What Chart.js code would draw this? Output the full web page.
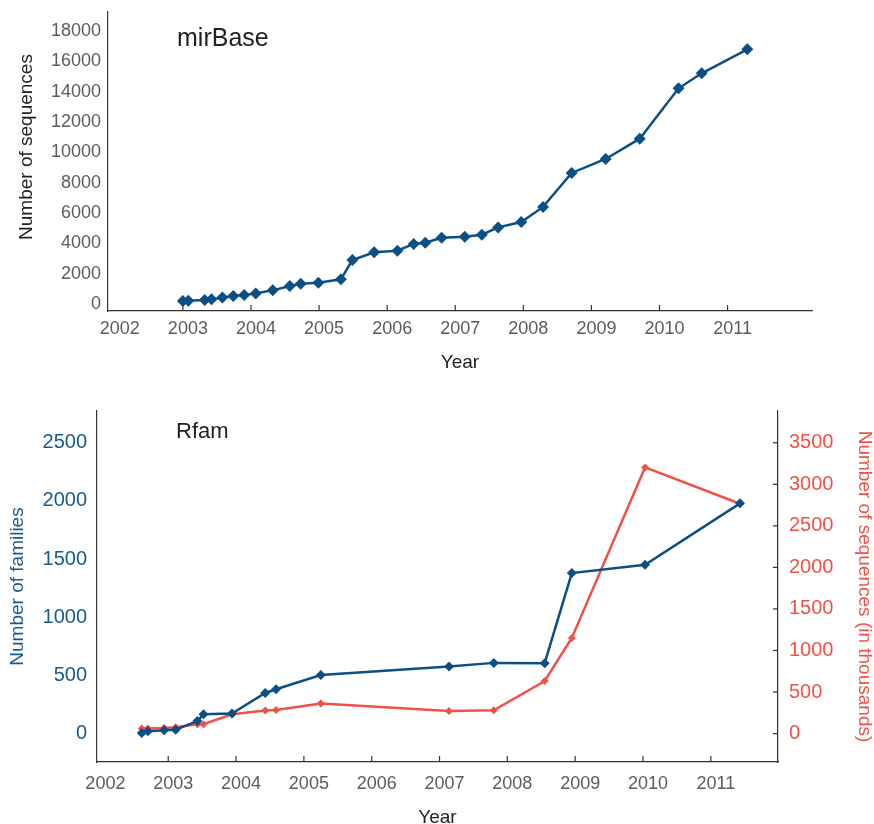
<!DOCTYPE html>
<html>
<head>
<meta charset="utf-8">
<script src="https://cdn.jsdelivr.net/npm/chart.js@4.4.1/dist/chart.umd.min.js"></script>
<style>
  html, body { margin: 0; padding: 0; background: #fff; }
  .box { position: absolute; left: 0; }
  #top { top: 0; }
  #bot { top: 390px; }
</style>
</head>
<body>
<div class="box" id="top"><canvas id="mir" width="874" height="390"></canvas></div>
<div class="box" id="bot"><canvas id="rfam" width="874" height="434"></canvas></div>
<script>
// ── data: mirBase ──────────────────────────────────────
const mirYears = [2003.00, 2003.08, 2003.32, 2003.42, 2003.58, 2003.74, 2003.90, 2004.07,
                  2004.32, 2004.57, 2004.73, 2004.99, 2005.32, 2005.49, 2005.81, 2006.15,
                  2006.39, 2006.56, 2006.80, 2007.14, 2007.39, 2007.63, 2007.97, 2008.29,
                  2008.71, 2009.21, 2009.71, 2010.28, 2010.62, 2011.29];
const mirSeqs  = [200, 220, 260, 310, 420, 530, 590, 700,
                  900, 1190, 1340, 1400, 1630, 2900, 3410, 3510,
                  3960, 4040, 4370, 4440, 4570, 5050, 5400, 6400,
                  8640, 9560, 10900, 14220, 15210, 16790];

// ── data: Rfam ─────────────────────────────────────────
const rfamYears    = [2002.61, 2002.70, 2002.94, 2003.11, 2003.43, 2003.52, 2003.94, 2004.43,
                      2004.59, 2005.25, 2007.14, 2007.80, 2008.55, 2008.95, 2010.03, 2011.43];
const rfamFamilies = [5, 20, 28, 34, 108, 166, 172, 349, 381, 504, 577, 608, 605, 1380, 1451, 1979];
const rfamSeqK     = [60, 60, 67, 76, 112, 112, 232, 277, 284, 361, 272, 280, 633, 1150, 3203, 2766];

// ── tick labels ────────────────────────────────────────
const yearTicks   = [2002, 2003, 2004, 2005, 2006, 2007, 2008, 2009, 2010, 2011];
const mirYTicks   = [0, 2000, 4000, 6000, 8000, 10000, 12000, 14000, 16000, 18000];
const famTicks    = [0, 500, 1000, 1500, 2000, 2500];
const seqKTicks   = [0, 500, 1000, 1500, 2000, 2500, 3000, 3500];

const BLUE = '#0b4f85';
const RED  = '#ef5246';
const GREY = '#5c5c5c';
const FONT = "'Liberation Sans', Arial, sans-serif";

Chart.defaults.font.family = FONT;
Chart.defaults.animation = false;

const pts = (xs, ys) => xs.map((x, i) => ({ x, y: ys[i] }));
const fixTicks = vals => scale => { scale.ticks = vals.map(v => ({ value: v })); };
// fixed axis box, no extra label padding pushed into the chart area
const fitW = w => s => { s.width = w; s.paddingTop = 0; s.paddingBottom = 0; };
const fitH = h => s => { s.height = h; };

// inward tick marks + free text (titles inside plot)
const extras = {
  id: 'extras',
  afterDraw(chart, args, o) {
    const ctx = chart.ctx;
    ctx.save();
    (o.ticks || []).forEach(t => {
      const sc = chart.scales[t.axis];
      ctx.strokeStyle = t.color; ctx.lineWidth = 1.2;
      t.values.forEach(v => {
        const p = sc.getPixelForValue(v);
        ctx.beginPath();
        if (sc.isHorizontal()) { const y = chart.chartArea.bottom; ctx.moveTo(p, y); ctx.lineTo(p, y - t.len); }
        else { const x = t.side === 'right' ? chart.chartArea.right : chart.chartArea.left;
               ctx.moveTo(x, p); ctx.lineTo(x - t.len, p); }
        ctx.stroke();
      });
    });
    (o.texts || []).forEach(t => {
      ctx.save();
      ctx.translate(t.x, t.y);
      if (t.rot) ctx.rotate(t.rot);
      ctx.fillStyle = t.color;
      ctx.font = t.font;
      ctx.textAlign = t.align || 'left';
      ctx.textBaseline = t.base || 'alphabetic';
      ctx.fillText(t.text, 0, 0);
      ctx.restore();
    });
    ctx.restore();
  }
};

// ── top: mirBase ───────────────────────────────────────
new Chart(document.getElementById('mir'), {
  type: 'line',
  data: { datasets: [{
    data: pts(mirYears, mirSeqs),
    borderColor: BLUE, backgroundColor: BLUE, borderWidth: 2.5,
    pointStyle: 'rectRot', pointRadius: 6, pointBorderWidth: 0, tension: 0
  }]},
  options: {
    responsive: false,
    layout: { padding: { top: 12, right: 62, left: 0, bottom: 0 } },
    plugins: {
      legend: { display: false }, tooltip: { enabled: false },
      extras: {
        ticks: [{ axis: 'x', values: yearTicks.slice(1), len: 6, color: '#333' }],
        texts: [
          { text: 'mirBase', x: 177, y: 46, font: `25px ${FONT}`, color: '#222' },
          { text: 'Number of sequences', x: 32, y: 147, rot: -Math.PI / 2,
            font: `19px ${FONT}`, color: '#222', align: 'center' }
        ]
      }
    },
    scales: {
      x: {
        type: 'linear', min: 2001.90, max: 2012.24,
        afterBuildTicks: fixTicks(yearTicks),
        afterFit: fitH(79),
        grid: { display: false, drawTicks: false },
        border: { display: true, color: '#333', width: 1.2 },
        ticks: { color: GREY, font: { size: 18 }, padding: 7, labelOffset: 5,
                 maxRotation: 0, autoSkip: false, callback: v => String(v) },
        title: { display: true, text: 'Year', color: '#222',
                 font: { size: 19, lineHeight: 1 }, padding: { top: 0, bottom: 18 } }
      },
      y: {
        min: -462, max: 19252,
        afterBuildTicks: fixTicks(mirYTicks),
        afterFit: fitW(108),
        grid: { display: false, drawTicks: false },
        border: { display: true, color: '#333', width: 1.2 },
        ticks: { color: GREY, font: { size: 18 }, padding: 7, callback: v => String(v) }
      }
    }
  },
  plugins: [extras]
});

// ── bottom: Rfam ───────────────────────────────────────
new Chart(document.getElementById('rfam'), {
  type: 'line',
  data: { datasets: [
    { label: 'families', data: pts(rfamYears, rfamFamilies), yAxisID: 'y',
      borderColor: BLUE, backgroundColor: BLUE, borderWidth: 2.5,
      pointStyle: 'rectRot', pointRadius: 5, pointBorderWidth: 0, tension: 0 },
    { label: 'sequences', data: pts(rfamYears, rfamSeqK), yAxisID: 'y2',
      borderColor: RED, backgroundColor: RED, borderWidth: 2.5,
      pointStyle: 'rectRot', pointRadius: 4, pointBorderWidth: 0, tension: 0 }
  ]},
  options: {
    responsive: false,
    layout: { padding: { top: 21, right: 0, left: 0, bottom: 0 } },
    plugins: {
      legend: { display: false }, tooltip: { enabled: false },
      extras: {
        ticks: [
          { axis: 'x', values: yearTicks.slice(1), len: 6, color: '#333' },
          { axis: 'y2', side: 'right', values: seqKTicks, len: 5, color: '#3b2b2b' }
        ],
        texts: [
          { text: 'Rfam', x: 176, y: 48, font: `22px ${FONT}`, color: '#222' }
        ]
      }
    },
    scales: {
      x: {
        type: 'linear', min: 2001.95, max: 2011.99,
        afterBuildTicks: fixTicks(yearTicks),
        afterFit: fitH(62),
        grid: { display: false, drawTicks: false },
        border: { display: true, color: '#333', width: 1.2 },
        ticks: { color: GREY, font: { size: 18 }, padding: 11, labelOffset: 5,
                 maxRotation: 0, autoSkip: false, callback: v => String(v) },
        title: { display: true, text: 'Year', color: '#222',
                 font: { size: 19, lineHeight: 1 }, padding: { top: 0, bottom: -3 } }
      },
      y: {
        position: 'left', min: -244, max: 2773,
        afterBuildTicks: fixTicks(famTicks),
        afterFit: fitW(97),
        grid: { display: false, drawTicks: false },
        border: { display: true, color: '#333', width: 1.2 },
        ticks: { color: '#175a8e', font: { size: 20 }, padding: 10, callback: v => String(v) },
        title: { display: true, text: 'Number of families', color: '#175a8e',
                 font: { size: 19, lineHeight: 1 }, padding: { top: 8, bottom: 0 } }
      },
      y2: {
        position: 'right', min: -342, max: 3882,
        afterBuildTicks: fixTicks(seqKTicks),
        afterFit: fitW(96),
        grid: { display: false, drawTicks: false },
        border: { display: true, color: '#3b2b2b', width: 1.2 },
        ticks: { color: RED, font: { size: 20 }, padding: 11, callback: v => String(v) },
        title: { display: true, text: 'Number of sequences (in thousands)', color: RED,
                 font: { size: 19, lineHeight: 1 }, padding: { top: 0, bottom: -2 } }
      }
    }
  },
  plugins: [extras]
});
</script>
</body>
</html>
